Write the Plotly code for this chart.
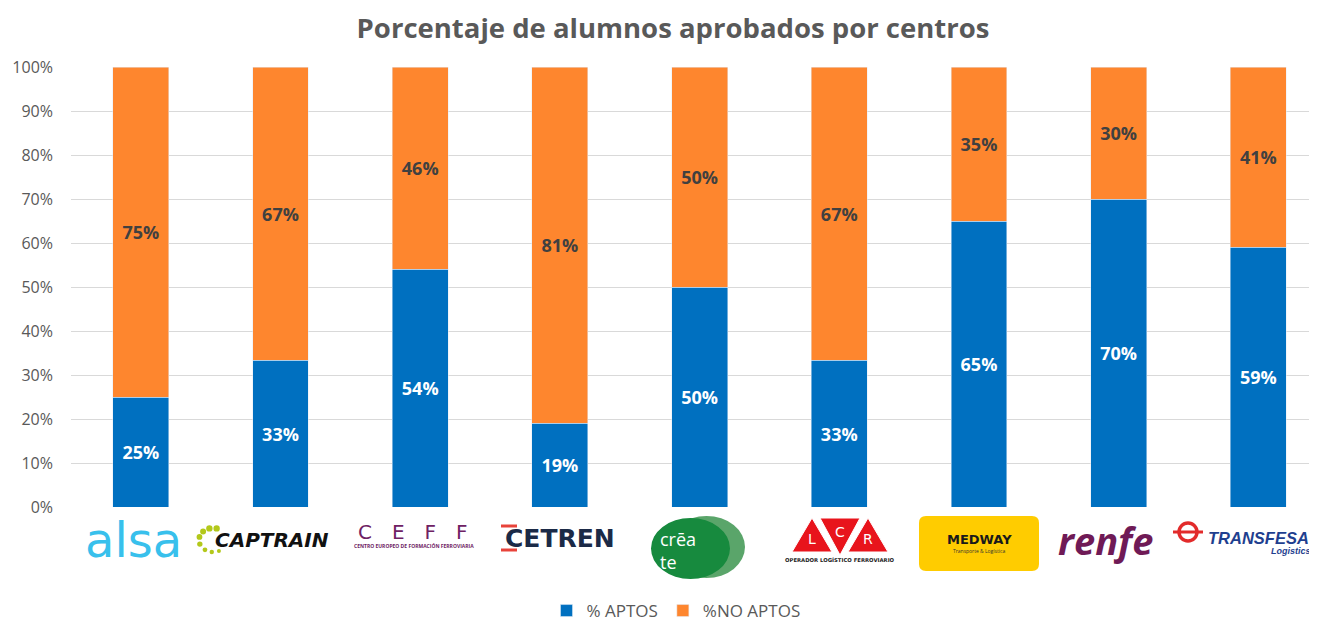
import plotly.graph_objects as go
import math

# ---------------- data ----------------
centros = ["ALSA", "CAPTRAIN", "CEFF", "CETREN", "CRÉATE", "LCR", "MEDWAY", "RENFE", "TRANSFESA"]
aptos = [0.25, 0.3333, 0.54, 0.19, 0.50, 0.3333, 0.65, 0.70, 0.59]
no_aptos = [0.75, 0.6667, 0.46, 0.81, 0.50, 0.6667, 0.35, 0.30, 0.41]
y_ticks = [0, 0.1, 0.2, 0.3, 0.4, 0.5, 0.6, 0.7, 0.8, 0.9, 1.0]

# page body adds an 8px offset; figure coordinates are screen coordinates minus OFF
OFF = 8
W_FIG, H_FIG = 1317 - OFF, 623 - OFF
SX0, SY0, SY1 = 71, 67, 507          # screen coords of plot left / top / bottom
PW = 1239
PH = SY1 - SY0
ML = SX0 - OFF
MT = SY0 - OFF
MR = W_FIG - ML - PW
MB = H_FIG - MT - PH
FONT = "Open Sans"
GREY = "#595959"


def px(xp):
    return (xp - SX0) / PW


def py(yp):
    return (SY1 - yp) / PH


fig = go.Figure()
fig.add_trace(go.Bar(
    x=centros, y=aptos, name="% APTOS", marker_color="#0070c0",
    texttemplate="%{y:.0%}", textposition="inside", insidetextanchor="middle",
    textangle=0, textfont=dict(color="white", size=18, family=FONT, weight="bold"),
    width=0.4))
fig.add_trace(go.Bar(
    x=centros, y=no_aptos, name="%NO APTOS", marker_color="#fe862e",
    texttemplate="%{y:.0%}", textposition="inside", insidetextanchor="middle",
    textangle=0, textfont=dict(color="#404040", size=18, family=FONT, weight="bold"),
    width=0.4))

shapes = []
ann = []


def text(x, y, s, size, color, weight="normal", style="normal", family=FONT, xanchor="center", align="center"):
    ann.append(dict(x=px(x), y=py(y), xref="paper", yref="paper", text=s, showarrow=False,
                    xanchor=xanchor, yanchor="middle", align=align,
                    font=dict(size=size, color=color, family=family, weight=weight, style=style)))


def dot(cx, cy, rad, color):
    shapes.append(dict(type="circle", xref="paper", yref="paper",
                       x0=px(cx - rad), x1=px(cx + rad), y0=py(cy + rad), y1=py(cy - rad),
                       fillcolor=color, line_width=0))


# alsa
text(133, 540, "alsa", 48, "#38c0ec", family="DejaVu Sans")
# captrain dots (arc around the left of the word)
for ang, rad in [(75, 3.2), (105, 3.2), (135, 3.0), (165, 2.9), (200, 2.7), (235, 2.4), (265, 2.2), (295, 2.0)]:
    cx = 213 + 14 * math.cos(math.radians(ang))
    cy = 540 - 12 * math.sin(math.radians(ang))
    dot(cx, cy, rad, "#b3c81a")
text(272, 540, "CAPTRAIN", 20, "#111111", weight="bold", style="italic", family="DejaVu Sans")
# CEFF
text(413, 532, "C\u2003E\u2003F\u2003F", 20, "#6e2163", family="DejaVu Sans")
text(414, 545, "CENTRO EUROPEO DE FORMACIÓN FERROVIARIA", 5, "#6e2163", weight="bold")
# CETREN
shapes.append(dict(type="line", xref="paper", yref="paper", x0=px(501), x1=px(517), y0=py(526), y1=py(526),
                   line=dict(color="#e8433a", width=3)))
shapes.append(dict(type="line", xref="paper", yref="paper", x0=px(501), x1=px(517), y0=py(550), y1=py(550),
                   line=dict(color="#e8433a", width=3)))
text(560, 538, "CETREN", 25, "#1b2a47", weight="bold", family="DejaVu Sans")
# créate
shapes.append(dict(type="circle", xref="paper", yref="paper", x0=px(668), x1=px(745), y0=py(578), y1=py(516),
                   fillcolor="#5aa56a", line_width=0))
shapes.append(dict(type="circle", xref="paper", yref="paper", x0=px(651), x1=px(730), y0=py(579), y1=py(518),
                   fillcolor="#178a3e", line_width=0))
text(658, 550, "crēa<br>te", 18, "white", family="Open Sans", xanchor="left", align="left")
# LCR
red = "#e8141c"
tri = [(792, 832, "up", "L"), (820, 860, "down", "C"), (848, 888, "up", "R")]
for x0, x1, d, letter in tri:
    xm = (x0 + x1) / 2
    if d == "up":
        path = f"M {px(x0)},{py(552)} L {px(x1)},{py(552)} L {px(xm)},{py(518)} Z"
    else:
        path = f"M {px(x0)},{py(518)} L {px(x1)},{py(518)} L {px(xm)},{py(555)} Z"
    shapes.append(dict(type="path", xref="paper", yref="paper", path=path, fillcolor=red,
                       line=dict(color="white", width=1)))
    text(xm, 539 if d == "up" else 532, letter, 14, "white", family="DejaVu Sans")
text(840, 560, "OPERADOR LOGÍSTICO FERROVIARIO", 5.3, "#222222", weight="bold", family="DejaVu Sans")
# MEDWAY
rx0, rx1, ry0, ry1, rr = 919, 1039, 516, 571, 7
p = (f"M {px(rx0+rr)},{py(ry0)} L {px(rx1-rr)},{py(ry0)} Q {px(rx1)},{py(ry0)} {px(rx1)},{py(ry0+rr)} "
     f"L {px(rx1)},{py(ry1-rr)} Q {px(rx1)},{py(ry1)} {px(rx1-rr)},{py(ry1)} "
     f"L {px(rx0+rr)},{py(ry1)} Q {px(rx0)},{py(ry1)} {px(rx0)},{py(ry1-rr)} "
     f"L {px(rx0)},{py(ry0+rr)} Q {px(rx0)},{py(ry0)} {px(rx0+rr)},{py(ry0)} Z")
shapes.append(dict(type="path", xref="paper", yref="paper", path=p, fillcolor="#ffcc00", line_width=0))
text(979, 539, "MEDWAY", 13, "#1a1a1a", weight="bold", family="DejaVu Sans")
text(979, 551, "Transporte &amp; Logística", 5, "#333333")
# renfe
text(1105, 540, "renfe", 38, "#6f1a56", weight="bold", style="italic", family="Open Sans")
# TRANSFESA
shapes.append(dict(type="circle", xref="paper", yref="paper", x0=px(1179), x1=px(1197), y0=py(541), y1=py(523),
                   fillcolor="rgba(0,0,0,0)", line=dict(color="#e22b2b", width=3.5)))
shapes.append(dict(type="line", xref="paper", yref="paper", x0=px(1173), x1=px(1203), y0=py(532), y1=py(532),
                   line=dict(color="#e22b2b", width=3)))
text(1258, 538, "TRANSFESA", 16.5, "#1f3f8f", weight="bold", style="italic", family="Liberation Sans")
text(1291, 551, "Logistics", 9, "#1f3f8f", weight="bold", style="italic", family="Liberation Sans")

fig.update_layout(
    barmode="stack",
    width=W_FIG, height=H_FIG,
    margin=dict(l=ML, r=MR, t=MT, b=MB, pad=0, autoexpand=False),
    plot_bgcolor="white", paper_bgcolor="white",
    font=dict(family=FONT, color=GREY),
    title=dict(text="Porcentaje de alumnos aprobados por centros",
               x=(673 - OFF) / W_FIG, xref="container", xanchor="center",
               y=1 - (28 - OFF) / H_FIG, yanchor="middle",
               font=dict(size=27.5, color=GREY, family=FONT, weight="bold")),
    xaxis=dict(showticklabels=False, showgrid=False, zeroline=False, showline=False,
               range=[-0.5, 8.37], ticks=""),
    yaxis=dict(range=[0, 1], tickvals=y_ticks, tickformat=".0%", showgrid=True, gridcolor="#d9d9d9",
               gridwidth=1, zeroline=False, showline=False, ticks="",
               tickfont=dict(size=16, color=GREY, family=FONT), ticklabelstandoff=17),
    legend=dict(orientation="h", x=px(676), xanchor="center", xref="paper",
                y=py(611), yanchor="middle", font=dict(size=17, color=GREY, family=FONT),
                traceorder="normal", tracegroupgap=0, borderwidth=0),
    shapes=shapes, annotations=ann,
    bargap=0.6,
)
fig.write_html("out.html")
